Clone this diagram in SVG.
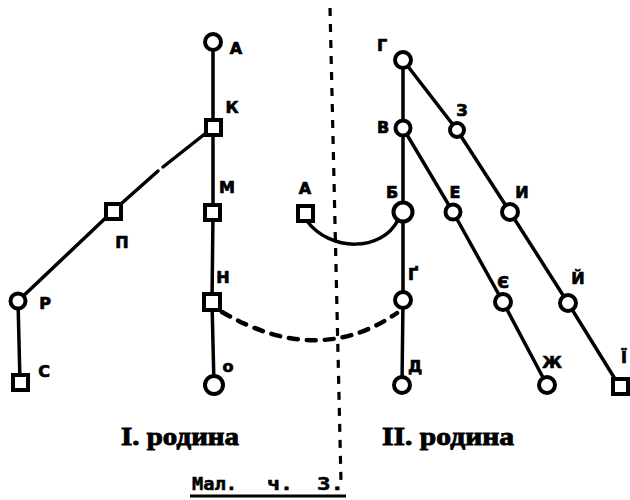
<svg xmlns="http://www.w3.org/2000/svg" width="630" height="500" viewBox="0 0 630 500">
  <style>
    .edge { fill: none; stroke: #000; stroke-width: 3.5; stroke-linecap: round; }
    .dash { fill: none; stroke: #000; stroke-width: 4.5; stroke-dasharray: 9 9; stroke-linecap: round; }
    .divider { fill: none; stroke: #000; stroke-width: 3.2; stroke-dasharray: 8 8; }
    .node { fill: #fff; stroke: #000; stroke-width: 4; }
    .lbl { font-family: "DejaVu Sans", sans-serif; font-weight: bold; font-size: 16px; text-anchor: middle; dominant-baseline: central; fill: #000; stroke: #000; stroke-width: 0.7; }
    .title { font-family: "Liberation Serif", serif; font-weight: bold; font-size: 26px; fill: #000; stroke: #000; stroke-width: 0.9; }
    .caption { font-family: "DejaVu Sans Mono", monospace; font-weight: bold; font-size: 17px; fill: #000; stroke: #000; stroke-width: 0.5; }
  </style>
  <rect width="630" height="500" fill="#fff"/>

  <!-- divider between the two families -->
  <path class="divider" d="M330,8 L341,482"/>

  <g id="connectors">
    <!-- family I -->
    <path class="edge" d="M213,42 L213,127 L213,212 L212,302 L214,385"/>
    <path class="edge" d="M206,133 L163,167"/>
    <path class="edge" d="M158,171 L113,211"/>
    <path class="edge" d="M113,211 L18,301 L20,382"/>
    <!-- family II -->
    <path class="edge" d="M403,60 L403,128 L403,212 L403,300 L402,385"/>
    <path class="edge" d="M403,60 L457,130 L510,212 L568,303 L620,387"/>
    <path class="edge" d="M403,128 L453,212 L503,302 L547,385"/>
    <!-- links between families -->
    <path class="edge" d="M307,221 C330,252 382,252 398,220"/>
    <path class="dash" d="M222,312 Q318,368 397,313"/>
  </g>

  <!-- family I nodes -->
  <g id="n-a1"><circle class="node" cx="213" cy="42" r="8"/><text class="lbl" x="236" y="48">А</text></g>
  <g id="n-k"><rect class="node" x="206" y="120" width="15" height="15"/><text class="lbl" x="232" y="107">К</text></g>
  <g id="n-m"><rect class="node" x="205" y="205" width="15" height="15"/><text class="lbl" x="227" y="187">М</text></g>
  <g id="n-n"><rect class="node" x="204" y="294" width="16" height="16"/><text class="lbl" x="223" y="277">Н</text></g>
  <g id="n-o"><circle class="node" cx="214" cy="385" r="9"/><text class="lbl" x="228" y="366" font-size="14">о</text></g>
  <g id="n-p"><rect class="node" x="106" y="204" width="15" height="15"/><text class="lbl" x="122" y="242">П</text></g>
  <g id="n-r"><circle class="node" cx="18" cy="301" r="7.5"/><text class="lbl" x="45" y="303">Р</text></g>
  <g id="n-s"><rect class="node" x="13" y="375" width="15" height="15"/><text class="lbl" x="44" y="371">С</text></g>

  <!-- family II nodes -->
  <g id="n-a2"><rect class="node" x="298" y="206" width="15" height="15"/><text class="lbl" x="305" y="188">А</text></g>
  <g id="n-g"><circle class="node" cx="403" cy="60" r="8"/><text class="lbl" x="382" y="45">Г</text></g>
  <g id="n-v"><circle class="node" cx="403" cy="128" r="7.5"/><text class="lbl" x="383" y="127">В</text></g>
  <g id="n-z"><circle class="node" cx="457" cy="130" r="7"/><text class="lbl" x="462" y="110">З</text></g>
  <g id="n-b"><circle class="node" cx="403" cy="212" r="9.5"/><text class="lbl" x="392" y="192">Б</text></g>
  <g id="n-e"><circle class="node" cx="453" cy="212" r="7.5"/><text class="lbl" x="455" y="192">Е</text></g>
  <g id="n-i"><circle class="node" cx="510" cy="212" r="8"/><text class="lbl" x="522" y="192">И</text></g>
  <g id="n-gg"><circle class="node" cx="403" cy="300" r="8"/><text class="lbl" x="413" y="274">Ґ</text></g>
  <g id="n-ye"><circle class="node" cx="503" cy="302" r="8"/><text class="lbl" x="503" y="282">Є</text></g>
  <g id="n-y"><circle class="node" cx="568" cy="303" r="8"/><text class="lbl" x="578" y="278">Й</text></g>
  <g id="n-d"><circle class="node" cx="402" cy="385" r="8"/><text class="lbl" x="415" y="366">Д</text></g>
  <g id="n-zh"><circle class="node" cx="547" cy="385" r="8"/><text class="lbl" x="552" y="362">Ж</text></g>
  <g id="n-yi"><rect class="node" x="613" y="379" width="15" height="15"/><text class="lbl" x="624" y="357">Ї</text></g>

  <!-- headings -->
  <text class="title" x="121" y="445" textLength="118" lengthAdjust="spacingAndGlyphs">I. родина</text>
  <text class="title" x="382" y="445" textLength="132" lengthAdjust="spacingAndGlyphs">II. родина</text>
  <g id="caption">
    <text class="caption" x="192" y="490" textLength="45" lengthAdjust="spacingAndGlyphs">Мал.</text>
    <text class="caption" x="267" y="490" textLength="26" lengthAdjust="spacingAndGlyphs">ч.</text>
    <text class="caption" x="317" y="490" textLength="27" lengthAdjust="spacingAndGlyphs">3.</text>
    <line x1="190" y1="496" x2="346" y2="496" stroke="#000" stroke-width="3"/>
  </g>
</svg>
